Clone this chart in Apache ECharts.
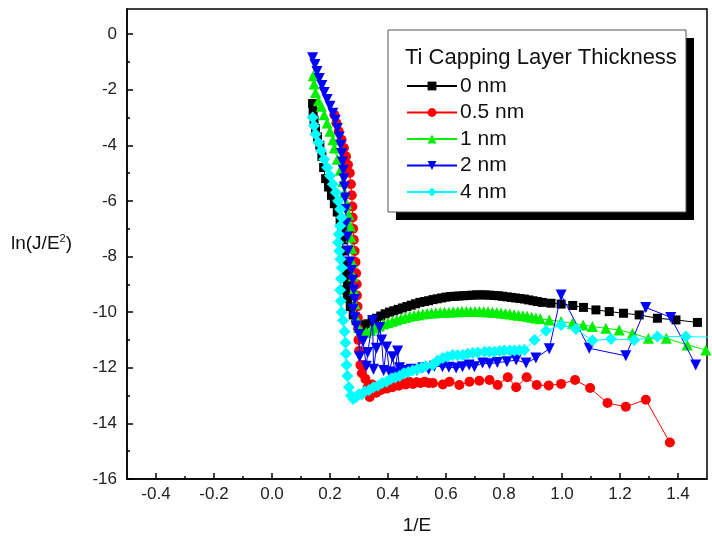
<!DOCTYPE html>
<html><head><meta charset="utf-8">
<script src="https://cdn.jsdelivr.net/npm/echarts@6/dist/echarts.min.js"></script>
<style>html,body{margin:0;padding:0;background:#fff}#c{width:712px;height:544px}</style>
</head><body><div id="c"></div>
<script>
const seriesNames = ['0 nm', '0.5 nm', '1 nm', '2 nm', '4 nm'];
const xMajorTicks = [-0.4,-0.2,0.0,0.2,0.4,0.6,0.8,1.0,1.2,1.4];
const xMinorTicks = [-0.3,-0.1,0.1,0.3,0.5,0.7,0.9,1.1,1.3];
const yMajorTicks = [-16,-14,-12,-10,-8,-6,-4,-2,0];
const yMinorTicks = [-15,-13,-11,-9,-7,-5,-3,-1];

const data0nm = [
[0.140,-2.5],[0.142,-2.8],[0.145,-3.1],[0.150,-3.4],[0.157,-3.7],[0.165,-4.0],[0.172,-4.4],[0.178,-4.8],[0.185,-5.2],[0.195,-5.5],
[0.205,-5.8],[0.215,-6.1],[0.225,-6.4],[0.235,-6.7],[0.240,-7.0],[0.243,-7.4],[0.245,-7.8],[0.250,-8.2],[0.255,-8.6],[0.260,-8.9],
[0.255,-9.2],[0.260,-9.5],[0.270,-9.8],[0.280,-10.1],[0.290,-10.3],[0.300,-10.45],[0.315,-10.5],[0.330,-10.42],
[0.345,-10.33],[0.360,-10.22],[0.375,-10.14],[0.390,-10.06],[0.405,-10.0],[0.420,-9.95],[0.435,-9.9],[0.450,-9.85],[0.465,-9.8],[0.480,-9.75],
[0.495,-9.7],[0.510,-9.65],[0.525,-9.62],[0.540,-9.59],[0.555,-9.55],[0.570,-9.52],[0.585,-9.49],[0.600,-9.46],[0.615,-9.44],[0.630,-9.43],
[0.645,-9.42],[0.660,-9.41],[0.675,-9.40],[0.690,-9.39],[0.705,-9.38],[0.720,-9.38],[0.735,-9.38],[0.750,-9.39],[0.765,-9.40],[0.780,-9.41],
[0.795,-9.43],[0.810,-9.45],[0.825,-9.47],[0.840,-9.49],[0.855,-9.51],[0.870,-9.53],[0.885,-9.56],[0.900,-9.59],[0.915,-9.62],[0.932,-9.65],
[0.962,-9.68],[0.997,-9.71],[1.037,-9.76],[1.074,-9.83],[1.117,-9.92],[1.163,-9.98],[1.212,-10.04],[1.266,-10.10],[1.329,-10.22],[1.393,-10.28],[1.467,-10.37]
];

const data05nm = [
[0.215,-2.9],[0.222,-3.2],[0.230,-3.5],[0.240,-3.8],[0.248,-4.1],[0.255,-4.4],[0.262,-4.7],[0.268,-5.0],[0.272,-5.4],[0.275,-5.8],
[0.277,-6.2],[0.278,-6.6],[0.280,-7.0],[0.282,-7.4],[0.285,-7.8],[0.288,-8.2],[0.290,-8.6],[0.292,-9.0],[0.293,-9.4],[0.295,-9.8],
[0.296,-10.2],[0.297,-10.6],[0.298,-11.0],[0.300,-11.4],[0.305,-11.9],[0.310,-12.2],[0.318,-11.9],[0.322,-12.4],[0.330,-12.7],[0.337,-13.05],
[0.345,-12.6],[0.352,-12.85],[0.360,-12.9],[0.368,-12.7],[0.376,-12.8],[0.385,-12.7],[0.395,-12.75],[0.405,-12.65],[0.415,-12.7],[0.425,-12.6],
[0.437,-12.65],[0.449,-12.55],[0.461,-12.6],[0.473,-12.5],[0.486,-12.58],[0.499,-12.52],[0.512,-12.55],[0.526,-12.5],[0.540,-12.55],[0.555,-12.55],
[0.589,-12.6],[0.612,-12.5],[0.646,-12.62],[0.681,-12.5],[0.715,-12.47],[0.750,-12.44],[0.778,-12.62],[0.813,-12.34],[0.842,-12.7],[0.878,-12.34],
[0.913,-12.62],[0.954,-12.64],[0.997,-12.58],[1.045,-12.44],[1.097,-12.73],[1.157,-13.27],[1.220,-13.4],[1.289,-13.15],[1.372,-14.69]
];

const data1nm = [
[0.142,-1.5],[0.145,-1.8],[0.150,-2.1],[0.160,-2.4],[0.170,-2.6],[0.180,-2.9],[0.190,-3.2],[0.200,-3.5],[0.210,-3.8],[0.215,-4.1],
[0.225,-4.5],[0.235,-4.9],[0.245,-5.3],[0.250,-5.7],[0.258,-6.1],[0.265,-6.5],[0.270,-6.9],[0.272,-7.3],[0.275,-7.7],[0.277,-8.2],
[0.280,-8.7],[0.283,-9.2],[0.286,-9.7],[0.290,-10.2],[0.298,-10.55],[0.310,-10.72],[0.325,-10.72],[0.340,-10.65],
[0.355,-10.57],[0.370,-10.5],[0.385,-10.43],[0.400,-10.38],[0.415,-10.33],[0.430,-10.28],[0.445,-10.23],[0.460,-10.19],[0.475,-10.15],[0.490,-10.12],
[0.505,-10.09],[0.520,-10.07],[0.535,-10.05],[0.550,-10.03],[0.565,-10.02],[0.580,-10.01],[0.595,-10.0],[0.610,-10.0],[0.625,-9.99],[0.640,-9.99],
[0.655,-9.98],[0.670,-9.98],[0.685,-9.98],[0.700,-9.98],[0.715,-9.98],[0.730,-9.99],[0.745,-9.99],[0.760,-10.0],[0.775,-10.01],[0.790,-10.03],
[0.805,-10.05],[0.820,-10.07],[0.835,-10.09],[0.850,-10.11],[0.865,-10.13],[0.880,-10.15],[0.895,-10.18],[0.910,-10.21],[0.925,-10.24],
[0.956,-10.28],[0.997,-10.34],[1.036,-10.4],[1.073,-10.46],[1.105,-10.52],[1.151,-10.58],[1.197,-10.64],[1.243,-10.76],[1.298,-10.94],[1.360,-10.94],
[1.432,-11.18],[1.496,-11.36]
];

const data2nm = [
[0.140,-0.85],[0.148,-1.1],[0.155,-1.35],[0.163,-1.6],[0.172,-1.85],[0.180,-2.1],[0.190,-2.35],[0.200,-2.6],[0.210,-2.85],[0.218,-3.1],
[0.225,-3.4],[0.232,-3.7],[0.237,-4.0],[0.240,-4.3],[0.243,-4.6],[0.246,-4.9],[0.248,-5.2],[0.250,-5.5],[0.252,-5.9],[0.254,-6.3],
[0.256,-6.8],[0.260,-7.3],[0.262,-7.8],[0.268,-8.2],[0.274,-8.5],[0.278,-8.85],[0.282,-9.2],[0.285,-9.55],[0.280,-9.9],[0.285,-10.2],
[0.290,-10.5],[0.300,-10.8],[0.302,-11.6],[0.314,-11.05],[0.325,-11.95],[0.330,-11.45],[0.347,-10.3],[0.350,-12.05],[0.360,-11.3],[0.371,-10.55],
[0.378,-11.0],[0.385,-12.1],[0.395,-11.25],[0.405,-12.15],[0.416,-11.6],[0.425,-12.2],[0.433,-11.4],[0.440,-12.0],[0.460,-12.1],[0.480,-12.05],
[0.500,-12.1],[0.520,-12.0],[0.540,-12.05],[0.560,-11.95],[0.588,-11.96],[0.610,-11.98],[0.635,-12.01],[0.657,-11.96],[0.680,-11.9],[0.698,-11.96],
[0.726,-11.83],[0.750,-11.86],[0.777,-11.81],[0.810,-11.78],[0.842,-11.72],[0.876,-11.83],[0.910,-11.65],[0.956,-11.32],[0.997,-9.38],[1.094,-11.3],
[1.220,-11.57],[1.289,-9.83],[1.375,-10.19],[1.461,-11.9]
];

const data4nm = [
[0.140,-3.0],[0.145,-3.3],[0.150,-3.6],[0.160,-3.9],[0.170,-4.2],[0.180,-4.5],[0.190,-4.8],[0.200,-5.1],[0.210,-5.4],[0.220,-5.7],
[0.228,-6.0],[0.235,-6.3],[0.240,-6.6],[0.235,-6.9],[0.230,-7.2],[0.228,-7.5],[0.232,-7.8],[0.236,-8.1],[0.240,-8.4],[0.238,-8.8],
[0.235,-9.2],[0.237,-9.6],[0.240,-10.0],[0.245,-10.3],[0.250,-10.7],[0.253,-11.1],[0.255,-11.5],[0.257,-11.9],[0.260,-12.3],[0.265,-12.7],
[0.272,-13.0],[0.280,-13.12],[0.290,-13.05],[0.300,-12.95],[0.310,-12.95],[0.320,-12.85],[0.335,-12.8],[0.350,-12.7],[0.365,-12.65],[0.380,-12.55],
[0.395,-12.5],[0.410,-12.4],[0.425,-12.35],[0.440,-12.3],[0.455,-12.2],[0.470,-12.15],[0.485,-12.1],[0.500,-12.05],[0.515,-12.0],[0.530,-11.95],
[0.554,-11.9],[0.570,-11.75],[0.589,-11.65],[0.605,-11.6],[0.623,-11.54],[0.640,-11.55],[0.658,-11.54],[0.675,-11.5],[0.692,-11.47],[0.710,-11.45],
[0.733,-11.42],[0.750,-11.42],[0.767,-11.42],[0.785,-11.4],[0.801,-11.38],[0.820,-11.38],[0.836,-11.38],[0.853,-11.37],[0.870,-11.36],[0.905,-11.0],
[0.945,-10.67],[0.997,-10.46],[1.048,-10.61],[1.105,-11.02],[1.169,-10.97],[1.249,-11.0],[1.329,-10.88],[1.427,-10.88],[1.530,-10.9]
];

const seriesData = [data0nm, data05nm, data1nm, data2nm, data4nm];
const colors = ['#000000', '#ff0000', '#00ee00', '#0000ff', '#00ffff'];
const symbols = ['rect', 'circle', 'triangle', 'triangle', 'diamond'];
const symbolRot = [0, 0, 0, 180, 0];
const symbolSizes = [9, 10, 11, 11, 12];

const FONT = 'Liberation Sans, Arial, Helvetica, sans-serif';
const chart = echarts.init(document.getElementById('c'), null, {renderer: 'canvas'});

const tickLine = {color: '#000', width: 1.5};

chart.setOption({
  animation: false,
  backgroundColor: '#fff',
  textStyle: {fontFamily: FONT},
  grid: {left: 127, right: 5, top: 9, bottom: 65, show: true, borderColor: '#000', borderWidth: 1.5, backgroundColor: 'transparent'},
  title: {
    text: 'Ti Capping Layer Thickness', left: 405, top: 47, padding: 0, z: 10,
    textStyle: {fontFamily: FONT, fontSize: 22, fontWeight: 'normal', color: '#111'}
  },
  legend: {
    data: seriesNames, orient: 'vertical', left: 406, top: 75, z: 10,
    itemWidth: 50, itemHeight: 11, itemGap: 4.5, padding: 0,
    textStyle: {fontFamily: FONT, fontSize: 21, color: '#111', lineHeight: 22, padding: [0,0,0,-2]}
  },
  graphic: [
    {type: 'rect', z: 3, shape: {x: 396, y: 38, width: 298, height: 182}, style: {fill: '#000'}},
    {type: 'rect', z: 4, shape: {x: 388, y: 30, width: 298, height: 182}, style: {fill: '#fff', stroke: '#555', lineWidth: 1}}
  ],
  xAxis: [
    {
      type: 'value', min: -0.5, max: 1.5, position: 'bottom',
      name: '1/E', nameLocation: 'middle', nameGap: 37,
      nameTextStyle: {fontFamily: FONT, fontSize: 19, color: '#111'},
      axisLine: {show: true, onZero: false, lineStyle: {color: '#000', width: 1.5}},
      splitLine: {show: false},
      axisTick: {show: true, inside: true, length: 6, customValues: xMajorTicks, lineStyle: tickLine},
      axisLabel: {customValues: xMajorTicks, margin: 7, fontFamily: FONT, fontSize: 17, color: '#222',
        formatter: v => v.toFixed(1)}
    },
    {
      type: 'value', min: -0.5, max: 1.5, position: 'bottom', gridIndex: 0,
      axisLine: {show: false, onZero: false}, splitLine: {show: false}, axisLabel: {show: false},
      axisTick: {show: true, inside: true, length: 3, customValues: xMinorTicks, lineStyle: tickLine}
    }
  ],
  yAxis: [
    {
      type: 'value', min: -16, max: 0.9, position: 'left',
      name: '{a|ln(J/E}{s|2}{a|)}', nameLocation: 'middle', nameGap: 55, nameRotate: 0,
      nameTextStyle: {rich: {
        a: {fontFamily: FONT, fontSize: 19, color: '#111'},
        s: {fontFamily: FONT, fontSize: 11, color: '#111', padding: [0, 0, 11, 0]}
      }},
      axisLine: {show: true, onZero: false, lineStyle: {color: '#000', width: 1.5}},
      splitLine: {show: false},
      axisTick: {show: true, inside: true, length: 6, customValues: yMajorTicks, lineStyle: tickLine},
      axisLabel: {customValues: yMajorTicks, margin: 10, fontFamily: FONT, fontSize: 17, color: '#222'}
    },
    {
      type: 'value', min: -16, max: 0.9, position: 'left', gridIndex: 0,
      axisLine: {show: false, onZero: false}, splitLine: {show: false}, axisLabel: {show: false},
      axisTick: {show: true, inside: true, length: 3, customValues: yMinorTicks, lineStyle: tickLine}
    }
  ],
  series: seriesData.map((d, i) => ({
    name: seriesNames[i], type: 'line', data: d, xAxisIndex: 0, yAxisIndex: 0,
    symbol: symbols[i], symbolSize: symbolSizes[i], symbolRotate: symbolRot[i],
    showSymbol: true, clip: true, z: 2 + i * 0.01,
    lineStyle: {color: colors[i], width: 1},
    itemStyle: {color: colors[i], borderWidth: 0}
  }))
});
</script>
</body></html>
